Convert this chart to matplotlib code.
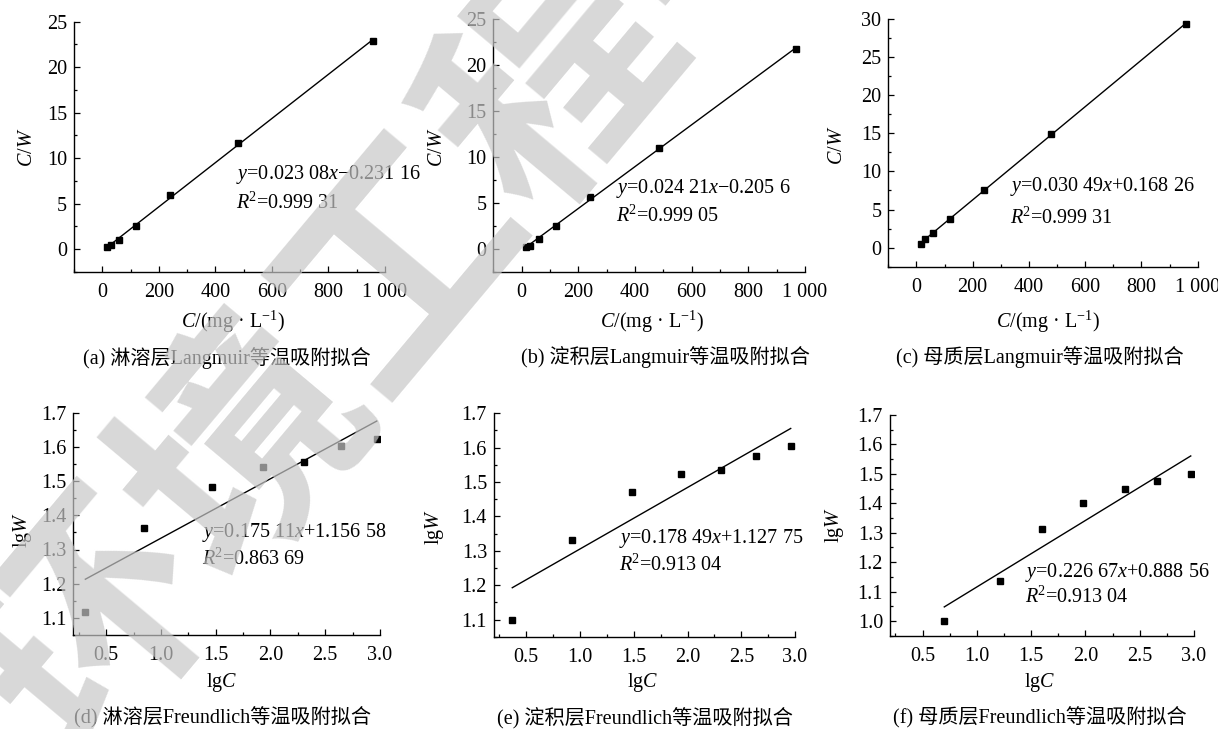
import numpy as np
import matplotlib
matplotlib.use('Agg')
import matplotlib.pyplot as plt
from matplotlib.ticker import MultipleLocator, FuncFormatter

W_PX, H_PX = 1218, 729

plt.rcParams['font.family'] = ['Liberation Serif', 'Noto Sans CJK SC']
plt.rcParams['mathtext.fontset'] = 'custom'
plt.rcParams['mathtext.rm'] = 'Liberation Serif'
plt.rcParams['mathtext.it'] = 'Liberation Serif:italic'

# Langmuir: C (mg/L) vs C/W
lang_c_a = [15, 32, 60, 120, 241, 480, 959]
lang_cw_a = [0.22, 0.44, 1.06, 2.60, 6.00, 11.70, 22.90]
lang_c_b = [14, 29, 60, 120, 241, 485, 969]
lang_cw_b = [0.22, 0.33, 1.02, 2.50, 5.66, 10.99, 21.81]
lang_c_c = [15, 31, 60, 121, 240, 480, 958]
lang_cw_c = [0.52, 1.18, 1.97, 3.80, 7.52, 14.95, 29.38]

# Freundlich: lgC vs lgW
freu_lgc_d = [0.31, 0.85, 1.47, 1.93, 2.31, 2.64, 2.97]
freu_lgw_d = [1.116, 1.362, 1.483, 1.540, 1.557, 1.602, 1.624]
freu_lgc_e = [0.37, 0.93, 1.48, 1.94, 2.31, 2.64, 2.96]
freu_lgw_e = [1.100, 1.331, 1.472, 1.524, 1.536, 1.577, 1.604]
freu_lgc_f = [0.70, 1.21, 1.60, 1.98, 2.36, 2.66, 2.97]
freu_lgw_f = [1.000, 1.135, 1.312, 1.402, 1.448, 1.476, 1.501]

equations = [
    ('$y$=0.023 08$x$\u22120.231 16', '$R$$^{\\mathrm{2}}$=0.999 31'),
    ('$y$=0.024 21$x$\u22120.205 6', '$R$$^{\\mathrm{2}}$=0.999 05'),
    ('$y$=0.030 49$x$+0.168 26', '$R$$^{\\mathrm{2}}$=0.999 31'),
    ('$y$=0.175 11$x$+1.156 58', '$R$$^{\\mathrm{2}}$=0.863 69'),
    ('$y$=0.178 49$x$+1.127 75', '$R$$^{\\mathrm{2}}$=0.913 04'),
    ('$y$=0.226 67$x$+0.888 56', '$R$$^{\\mathrm{2}}$=0.913 04'),
]
captions = [
    '(a) 淋溶层Langmuir等温吸附拟合',
    '(b) 淀积层Langmuir等温吸附拟合',
    '(c) 母质层Langmuir等温吸附拟合',
    '(d) 淋溶层Freundlich等温吸附拟合',
    '(e) 淀积层Freundlich等温吸附拟合',
    '(f) 母质层Freundlich等温吸附拟合',
]

fig = plt.figure(figsize=(W_PX / 100, H_PX / 100), dpi=100)


def px_text(x, y, s, **kw):
    fig.text(x / W_PX, 1 - y / H_PX, s, **kw)


def make_axes(l, r, t, b):
    ax = fig.add_axes([l / W_PX, 1 - b / H_PX, (r - l) / W_PX, (b - t) / H_PX])
    for side in ('top', 'right'):
        ax.spines[side].set_visible(False)
    for side in ('left', 'bottom'):
        ax.spines[side].set_linewidth(1.0)
    ax.tick_params(which='both', direction='in', labelsize=14.5, width=0.9)
    ax.tick_params(which='major', length=4)
    ax.tick_params(which='minor', length=2.2)
    ax.tick_params(axis='y', pad=5)
    ax.tick_params(axis='x', pad=8)
    return ax


def draw_panel(rect, xs, ys, xlim, ylim, xmaj, xmin, ymaj, ymin, xfmt, yfmt):
    ax = make_axes(*rect)
    xs = np.asarray(xs)
    ys = np.asarray(ys)
    k, c0 = np.polyfit(xs, ys, 1)
    xx = np.array([xs.min(), xs.max()])
    ax.plot(xx, k * xx + c0, color='black', lw=1.0, zorder=2)
    ax.plot(xs, ys, 's', color='black', ms=5, zorder=3)
    ax.set_xlim(*xlim)
    ax.set_ylim(*ylim)
    ax.xaxis.set_major_locator(MultipleLocator(xmaj))
    ax.xaxis.set_minor_locator(MultipleLocator(xmin))
    ax.yaxis.set_major_locator(MultipleLocator(ymaj))
    ax.yaxis.set_minor_locator(MultipleLocator(ymin))
    ax.xaxis.set_major_formatter(FuncFormatter(xfmt))
    ax.yaxis.set_major_formatter(FuncFormatter(yfmt))
    return ax


def thousands(v, pos):
    if v < -1e-6:
        return ''
    return f'{int(round(v)):,}'.replace(',', ' ')


def int_fmt(v, pos):
    if v < -1e-6:
        return ''
    return f'{int(round(v))}'


def one_dec(v, pos):
    return f'{v:.1f}'


# top row: Langmuir
draw_panel((74, 385, 21.7, 272), lang_c_a, lang_cw_a, (-100, 1000), (-2.5, 25),
           200, 100, 5, 2.5, thousands, int_fmt)
draw_panel((493.3, 805, 19.3, 271.7), lang_c_b, lang_cw_b, (-100, 1000), (-2.5, 25),
           200, 100, 5, 2.5, thousands, int_fmt)
draw_panel((888.3, 1197.7, 19, 266.7), lang_c_c, lang_cw_c, (-100, 1000), (-2.5, 30),
           200, 100, 5, 2.5, thousands, int_fmt)

# bottom row: Freundlich
draw_panel((73.3, 380, 412.7, 635), freu_lgc_d, freu_lgw_d, (0.2, 3.0), (1.05, 1.7),
           0.5, 0.25, 0.1, 0.05, one_dec, one_dec)
draw_panel((494, 795, 413.3, 636.7), freu_lgc_e, freu_lgw_e, (0.2, 3.0), (1.05, 1.7),
           0.5, 0.25, 0.1, 0.05, one_dec, one_dec)
draw_panel((890, 1194, 415, 635.7), freu_lgc_f, freu_lgw_f, (0.2, 3.0), (0.95, 1.7),
           0.5, 0.25, 0.1, 0.05, one_dec, one_dec)

# axis labels
ylab_pos = [(27, 147), (438, 147), (837, 145), (23, 530), (435, 527), (835, 525)]
xlab_pos = [(233, 322), (652, 322), (1048, 322), (222, 683), (643, 683), (1040, 683)]
ylabels = ['$C$/$W$'] * 3 + ['lg$W$'] * 3
xlabels = ['$C$/(mg \u00b7 L$^{\u22121}$)'] * 3 + ['lg$C$'] * 3
for (x, y), s in zip(ylab_pos, ylabels):
    px_text(x, y, s, rotation=90, ha='center', va='center', fontsize=14.5)
for (x, y), s in zip(xlab_pos, xlabels):
    px_text(x, y, s, ha='center', va='center', fontsize=14.5)

# fit equations
eq_pos = [(236, 175, 203), (616, 189, 216), (1010, 187, 218),
          (202, 532, 559), (619, 539, 565), (1025, 572, 597)]
for (x, y1, y2), (e1, e2) in zip(eq_pos, equations):
    px_text(x, y1, e1, ha='left', va='center', fontsize=14.5)
    px_text(x, y2, e2, ha='left', va='center', fontsize=14.5)

# sub-figure captions
cap_pos = [(227, 358), (665, 357), (1040, 357), (222, 718), (645, 718), (1040, 718)]
for (x, y), s in zip(cap_pos, captions):
    px_text(x, y, s, ha='center', va='center', fontsize=14.5)

# journal watermark
px_text(480, 175, '环境工程学报', rotation=50, ha='center', va='center',
        fontsize=172, family='Noto Sans CJK SC', weight='bold',
        color=(0.78, 0.78, 0.78), alpha=0.7, zorder=10)

fig.savefig('out.png', dpi=100)
